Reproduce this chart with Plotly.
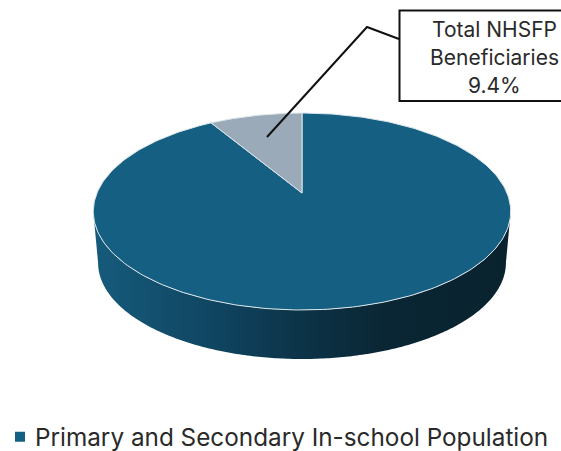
import numpy as np
import plotly.graph_objects as go

# --- data ---
categories = ["Primary and Secondary In-school Population", "Total NHSFP Beneficiaries"]
shares = [90.6, 9.4]
slice_colors = ["#156082", "#9AAAB8"]
wall_colors = [[0, "#165B7C"], [0.3, "#0F4460"], [0.5, "#0C3347"], [0.7, "#0A2634"], [1, "#09222E"]]
callout_lines = ["Total NHSFP", "Beneficiaries", "9.4%"]

# --- perspective disc geometry (pixels) ---
CX, CY, A, B, K = 302, 193, 205, 95, 0.188
WALL_DROP, WALL_SCALE = 51.7, 0.977
FORESHORTEN = 0.0536  # angular squeeze of the tilted view


def rim(theta, drop=0.0, scale=1.0):
    u, v = np.sin(theta), np.cos(theta)
    w = 1 + K * v
    return CX + scale * A * u / w, CY + drop - scale * B * v / w


def view_angle(theta):
    return theta - FORESHORTEN * np.sin(2 * theta)


fig = go.Figure()

# side wall: visible front arc between the disc's widest points
t_side = np.arccos(-K)
front = np.linspace(t_side, 2 * np.pi - t_side, 240)
x_top, y_top = rim(front)
x_bot, y_bot = rim(front, WALL_DROP, WALL_SCALE)
fig.add_trace(go.Scatter(
    x=np.r_[x_top, x_bot[::-1]], y=np.r_[y_top, y_bot[::-1]],
    mode="none", fill="toself", showlegend=False, hoverinfo="skip",
    fillgradient=dict(type="horizontal", colorscale=wall_colors),
))

# top face: slices run clockwise from 12 o'clock
cuts = np.cumsum([0] + shares) / sum(shares) * 2 * np.pi
for name, colour, t0, t1 in zip(categories, slice_colors, cuts[:-1], cuts[1:]):
    arc = view_angle(np.linspace(t0, t1, 300))
    xa, ya = rim(arc)
    fig.add_trace(go.Scatter(
        x=np.r_[CX, xa, CX], y=np.r_[CY, ya, CY],
        mode="lines", fill="toself", fillcolor=colour,
        line=dict(color="#DCE5EA", width=1), name=name,
        showlegend=False, hoverinfo="name",
    ))

# legend key (only the first category appears in the legend)
fig.add_trace(go.Scatter(
    x=[None], y=[None], mode="markers", name=categories[0],
    marker=dict(symbol="square", size=10, color=slice_colors[0]),
))

# callout leader
fig.add_trace(go.Scatter(
    x=[267, 367, 399], y=[137, 27, 39], mode="lines",
    line=dict(color="#111111", width=2), showlegend=False, hoverinfo="skip",
))

fig.add_shape(type="rect", x0=399.5, x1=570, y0=10.5, y1=101,
              line=dict(color="#111111", width=2), fillcolor="white")
for line_text, y in zip(callout_lines, [29, 57, 85]):
    fig.add_annotation(x=494, y=y, text=line_text, showarrow=False,
                       font=dict(family="Inter", size=21, color="#2A2A2A"))

fig.update_layout(
    width=561, height=451,
    margin=dict(l=0, r=0, t=0, b=0, autoexpand=False),
    paper_bgcolor="white", plot_bgcolor="white",
    xaxis=dict(range=[0, 561], visible=False, fixedrange=True),
    yaxis=dict(range=[451, 0], visible=False, fixedrange=True),
    legend=dict(x=-0.0089, y=0.031, xanchor="left", yanchor="middle",
                bgcolor="rgba(0,0,0,0)",
                font=dict(family="Inter", size=24.3, color="#2A2A2A")),
)
fig.write_html(
    "out.html",
    config={"displayModeBar": False},
    post_script=(
        "document.body.style.margin='0';document.body.style.overflow='hidden';"
        "document.querySelectorAll('.legendsymbols').forEach("
        "e=>e.setAttribute('transform','translate(5,0)'));"
    ),
)
